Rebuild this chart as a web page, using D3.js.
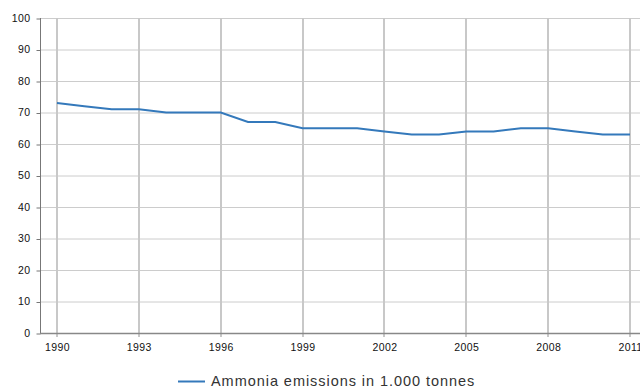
<!DOCTYPE html>
<html><head><meta charset="utf-8">
<script src="https://cdn.jsdelivr.net/npm/d3@7"></script>
<style>body{margin:0;background:#fff;overflow:hidden}svg{display:block}</style>
</head><body>
<script>
const years = [1990,1991,1992,1993,1994,1995,1996,1997,1998,1999,2000,2001,2002,2003,2004,2005,2006,2007,2008,2009,2010,2011];
const values = [73,72,71,71,70,70,70,67,67,65,65,65,64,63,63,64,64,65,65,64,63,63];
const xTicks = [1990,1993,1996,1999,2002,2005,2008,2011];
const yTicks = [0,10,20,30,40,50,60,70,80,90,100];
const seriesName = "Ammonia emissions in 1.000 tonnes";

(function () {
const W = 640, H = 388;
const svg = d3.select("body").append("svg").attr("width", W).attr("height", H);
const pl = 40, pt = 18, pb = 333, pr = 647;
const x = d3.scaleLinear().domain([1990, 2011]).range([57, 630]);
const y = d3.scaleLinear().domain([0, 100]).range([pb, pt]);
const font = "Liberation Sans, Arial, sans-serif";

// horizontal grid
svg.append("g").selectAll("line").data(yTicks.filter(d => d > 0)).join("line")
  .attr("x1", pl).attr("x2", pr).attr("y1", d => y(d) + 0.5).attr("y2", d => y(d) + 0.5)
  .attr("stroke", "#cccccc").attr("stroke-width", 1);
// vertical grid
svg.append("g").selectAll("line").data(xTicks).join("line")
  .attr("x1", d => Math.round(x(d))).attr("x2", d => Math.round(x(d)))
  .attr("y1", pt).attr("y2", pb + 4)
  .attr("stroke", "#c8c8c8").attr("stroke-width", 2);

// y axis
const yAxis = svg.append("g").attr("transform", `translate(${pl + 0.5},0)`)
  .call(d3.axisLeft(y).tickValues(yTicks).tickSize(4).tickPadding(6));
yAxis.select(".domain").attr("stroke", "#777").attr("d", `M0,${pt}V${pb}`);
yAxis.selectAll(".tick line").attr("stroke", "#777").attr("transform", "translate(0,0.5)");
yAxis.selectAll("text").attr("font-family", font).attr("font-size", 10.5).attr("fill", "#111")
  .attr("letter-spacing", 0.4);

// x axis
const xAxis = svg.append("g").attr("transform", `translate(0,${pb + 0.5})`)
  .call(d3.axisBottom(x).tickValues(xTicks).tickFormat(d3.format("d")).tickSize(0).tickPadding(10));
xAxis.select(".domain").attr("stroke", "#888").attr("stroke-width", 1.5).attr("d", `M${pl},0H${pr}`);
xAxis.selectAll("text").attr("font-family", font).attr("font-size", 10.5).attr("fill", "#111")
  .attr("letter-spacing", 0.4);

// line
svg.append("path").datum(years.map((yr, i) => [yr, values[i]]))
  .attr("fill", "none").attr("stroke", "#3479bb").attr("stroke-width", 2)
  .attr("d", d3.line().x(d => x(d[0])).y(d => y(d[1])));

// legend
const lg = svg.append("g");
lg.append("line").attr("x1", 178).attr("x2", 205).attr("y1", 381.5).attr("y2", 381.5)
  .attr("stroke", "#3479bb").attr("stroke-width", 2);
lg.append("text").attr("x", 211).attr("y", 386).attr("font-family", font).attr("font-size", 14.5)
  .attr("letter-spacing", 0.95).attr("fill", "#333").text(seriesName);
})();
</script>
</body></html>
